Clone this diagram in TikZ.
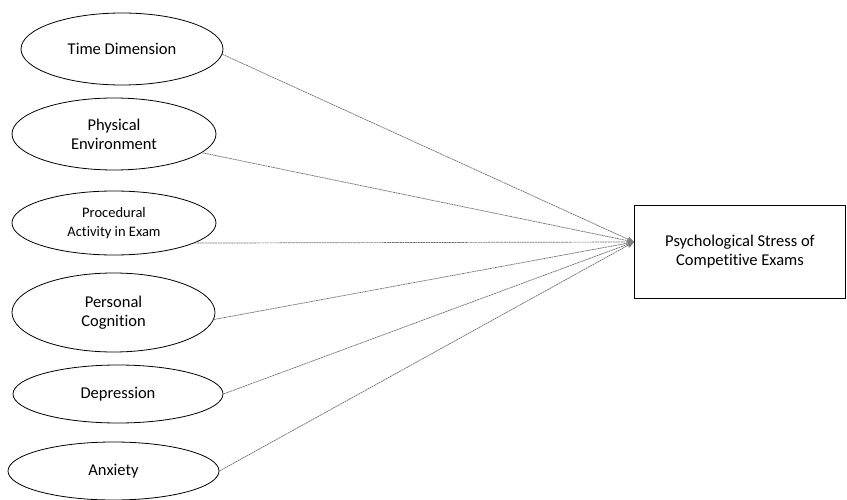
\documentclass[tikz,border=0pt]{standalone}
\usepackage{fontspec}
\setmainfont[Ligatures=NoCommon]{Carlito}
\usetikzlibrary{shapes.geometric,arrows.meta}

\tikzset{
	factor/.style={draw, ellipse, line width=0.8pt, inner sep=0pt, align=center},
	outcome/.style={draw, rectangle, line width=1pt, align=center, font=\fontsize{16.5}{19}\selectfont},
	link/.style={black!55, line width=0.7pt, dash pattern=on 2pt off 0.6pt, -{Stealth[length=7pt, width=6pt, gray]}},
}

\begin{document}
\begin{tikzpicture}[x=1pt, y=-1pt]
	\useasboundingbox (0,0) rectangle (847,500);
	\fill[white] (0,0) rectangle (847,500);

	% left column: the six factors
	\foreach \n/\x/\y/\w/\h/\fs/\txt in {
		td/122/49/202/72/16.5/{Time Dimension},
		pe/114/134/204/72/16.5/{Physical\\Environment},
		pa/114/223/204/64/14.5/{Procedural\\Activity in Exam},
		pc/113.5/312.5/203/79/16.5/{Personal\\Cognition},
		dp/118/394/210/58/16.5/{Depression},
		ax/113.5/471/211/58/16.5/{Anxiety}} {
		\node[factor, minimum width=\w pt, minimum height=\h pt, font=\fontsize{\fs}{19}\selectfont] (\n) at (\x,\y) {\txt};
	}

	% outcome box on the right
	\node[outcome, minimum width=211pt, minimum height=92pt] (ps) at (740,252) {Psychological Stress of\\Competitive Exams};

	% all factors point at the box
	\draw[link] (td.-3) -- ([yshift=10pt]ps.west);
	\draw[link] (pe.-12) -- ([yshift=10pt]ps.west);
	\draw[link] (pa.-14) -- ([yshift=10pt]ps.west);
	\draw[link] (pc.-4) -- ([yshift=10pt]ps.west);
	\draw[link] (dp.east) -- ([yshift=10pt]ps.west);
	\draw[link] (ax.east) -- ([yshift=10pt]ps.west);
\end{tikzpicture}
\end{document}
